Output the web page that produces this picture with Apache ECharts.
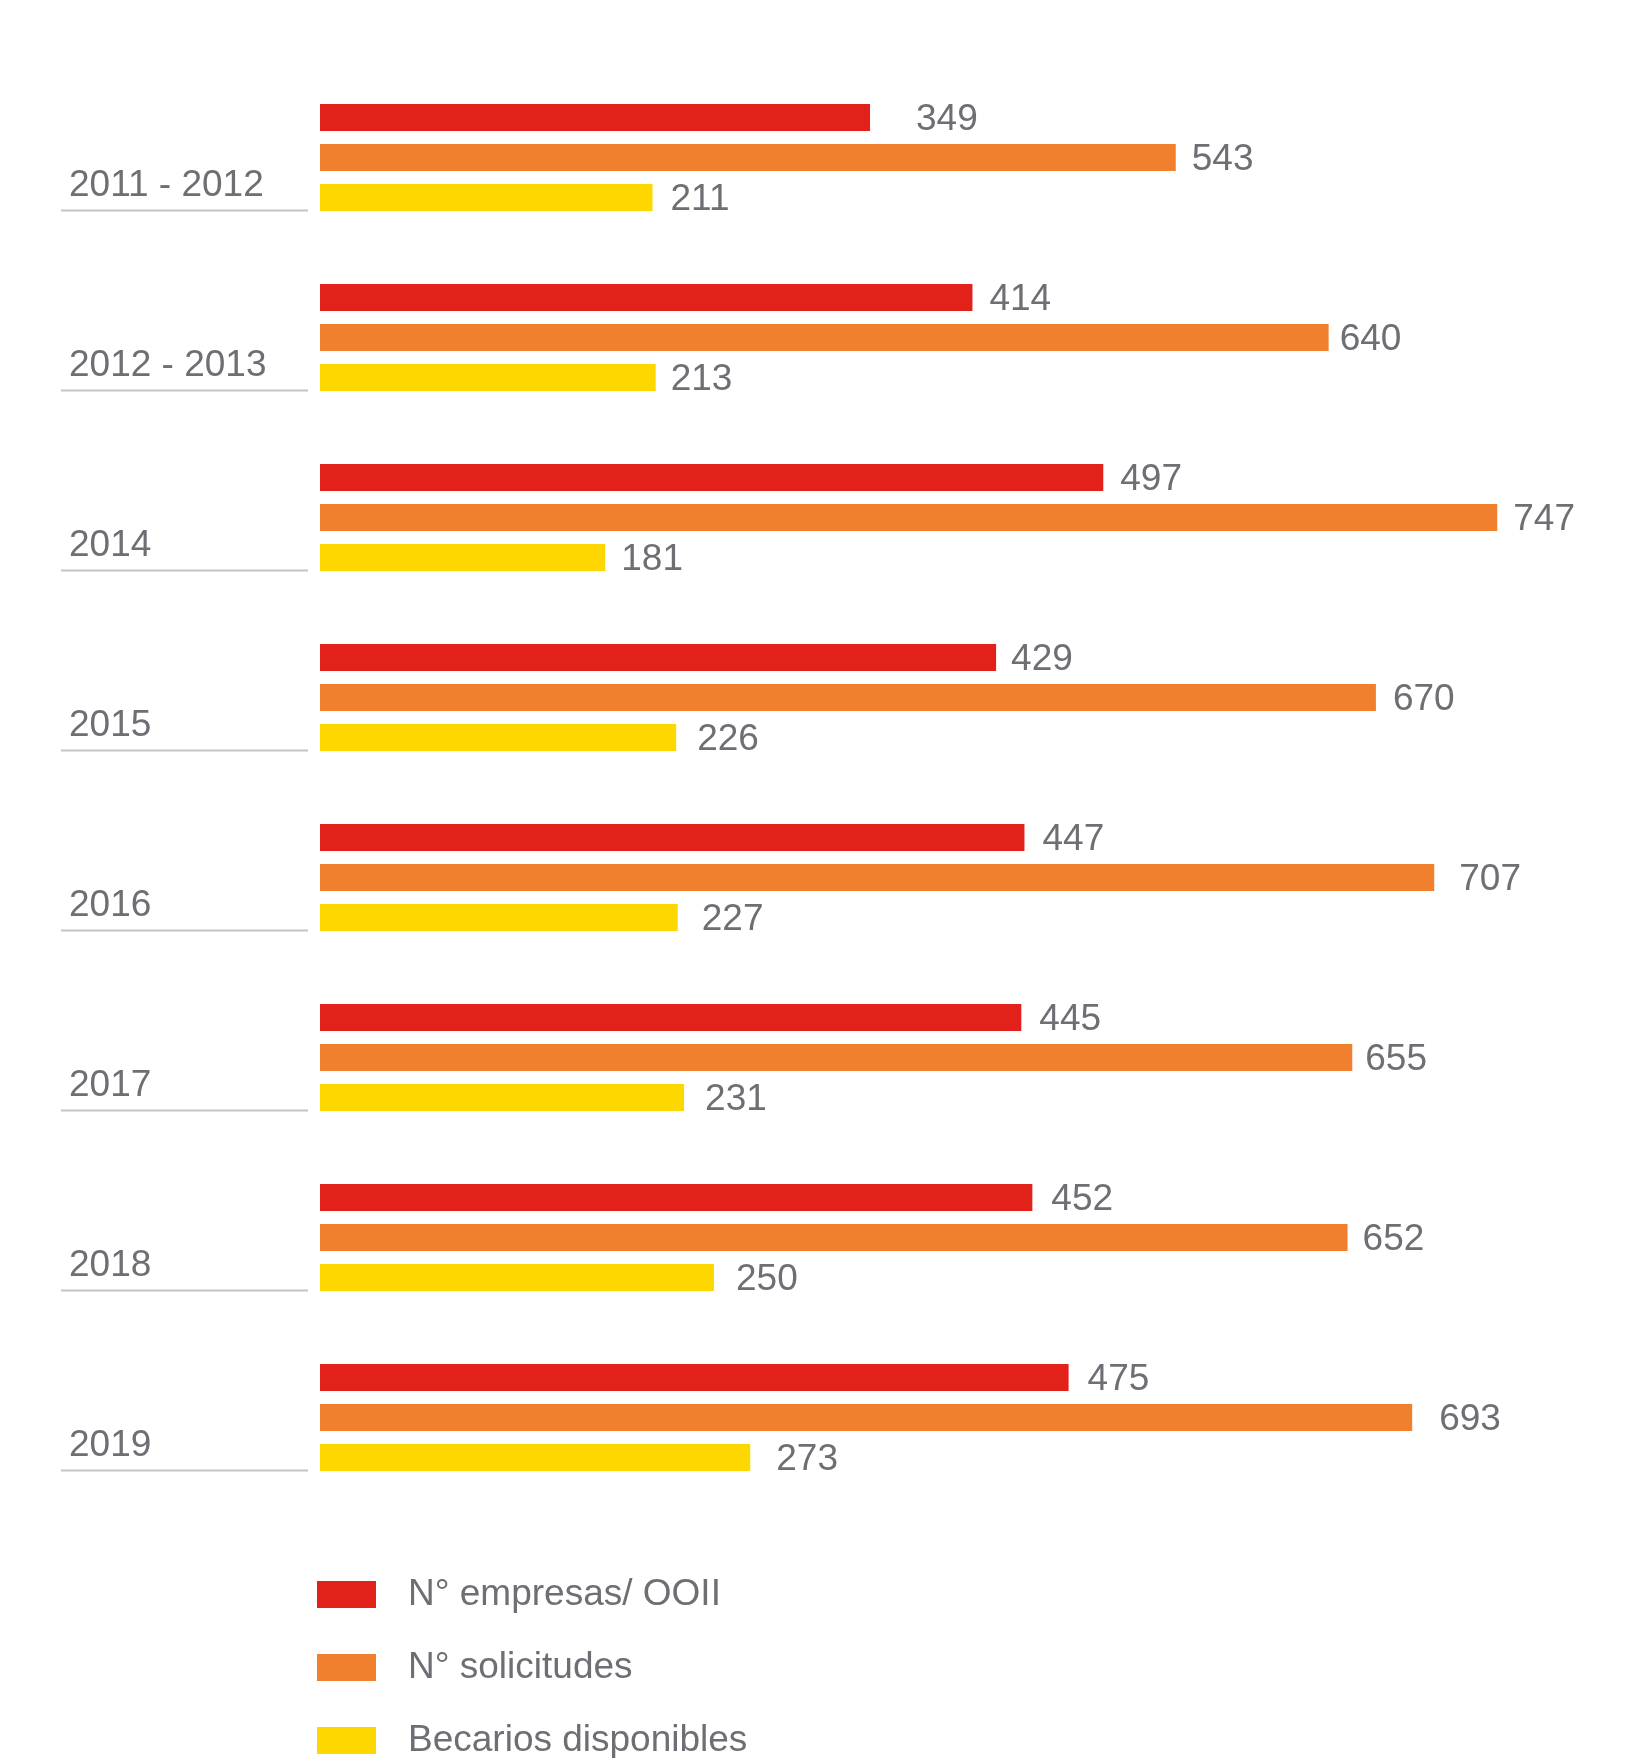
<!DOCTYPE html>
<html>
<head>
<meta charset="utf-8">
<title>Empresas, solicitudes y becarios</title>
<script src="https://cdn.jsdelivr.net/npm/echarts@6/dist/echarts.min.js"></script>
<style>
  html, body { margin: 0; padding: 0; background: #ffffff; }
  #chart { width: 1630px; height: 1758px; }
</style>
</head>
<body>
<div id="chart"></div>
<script>
// Periods shown on the vertical axis
const periods = ['2011 - 2012', '2012 - 2013', '2014', '2015', '2016', '2017', '2018', '2019'];

// Series values, one per period
const empresas    = [349, 414, 497, 429, 447, 445, 452, 475];
const solicitudes = [543, 640, 747, 670, 707, 655, 652, 693];
const becarios    = [211, 213, 181, 226, 227, 231, 250, 273];

// Series names shown in the legend
const seriesNames = ['N° empresas/ OOII', 'N° solicitudes', 'Becarios disponibles'];

// Gap (px) between each bar end and its value label
const gapEmpresas    = [46, 17, 17, 15, 18, 18, 19, 19];
const gapSolicitudes = [16, 11, 16, 17, 25, 13, 15, 27];
const gapBecarios    = [18, 15, 16, 21, 24, 21, 22, 26];

const COLORS = ['#e3211b', '#f07f2e', '#fed700'];
const TEXT = '#6e6f74';
const FONT = '"Liberation Sans", Arial, Helvetica, sans-serif';
const FONT_SIZE = 37;

function barSeries(name, values, gaps, color) {
  return {
    name: name,
    type: 'bar',
    barWidth: 27,
    barGap: '48%',
    itemStyle: { color: color },
    label: {
      show: true,
      position: 'right',
      offset: [0, 2],
      color: TEXT,
      fontSize: FONT_SIZE,
      fontFamily: FONT
    },
    data: values.map((v, i) => ({ value: v, label: { distance: gaps[i] } }))
  };
}

const chart = echarts.init(document.getElementById('chart'), null, { renderer: 'canvas' });

chart.setOption({
  backgroundColor: '#ffffff',
  animation: false,
  textStyle: { fontFamily: FONT },
  grid: {
    left: 320,
    top: 67.5,
    width: 800 * 1.576,
    height: 1440,
    outerBoundsMode: 'none'
  },
  legend: {
    orient: 'vertical',
    left: 317,
    top: 1576,
    height: 260,
    padding: 0,
    itemWidth: 59,
    itemHeight: 27,
    itemGap: 36,
    icon: 'rect',
    selectedMode: false,
    data: seriesNames,
    textStyle: {
      color: TEXT,
      fontSize: FONT_SIZE,
      lineHeight: 36,
      fontFamily: FONT,
      padding: [0, 0, 0, 27]
    }
  },
  xAxis: {
    type: 'value',
    min: 0,
    max: 800,
    show: false
  },
  yAxis: {
    type: 'category',
    inverse: true,
    data: periods,
    axisLine: { show: false },
    axisTick: { show: false },
    splitLine: { show: false },
    axisLabel: {
      interval: 0,
      align: 'left',
      verticalAlign: 'top',
      lineHeight: 57,
      margin: 251,
      color: TEXT,
      fontSize: FONT_SIZE,
      fontFamily: FONT
    }
  },
  series: [
    barSeries(seriesNames[0], empresas, gapEmpresas, COLORS[0]),
    barSeries(seriesNames[1], solicitudes, gapSolicitudes, COLORS[1]),
    barSeries(seriesNames[2], becarios, gapBecarios, COLORS[2]),
    {
      // thin rule under each period label
      type: 'custom',
      silent: true,
      data: periods.map((p, i) => [0, i]),
      encode: { x: 0, y: 1 },
      renderItem: function (params, api) {
        const pt = api.coord([0, api.value(1)]);
        const x0 = params.coordSys.x;
        const y = Math.round(pt[1] + 52) + 0.5;
        return {
          type: 'line',
          shape: { x1: x0 - 259, y1: y, x2: x0 - 12, y2: y },
          style: { stroke: '#c4c4c6', lineWidth: 2 }
        };
      }
    }
  ]
});
</script>
</body>
</html>
